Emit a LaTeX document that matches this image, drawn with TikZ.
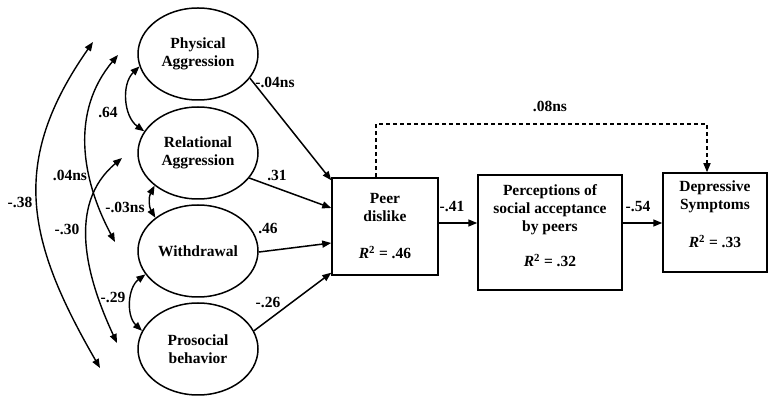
\documentclass[tikz,border=0pt]{standalone}
\usepackage{fontspec}
\setmainfont{Liberation Serif}
\usetikzlibrary{positioning, arrows.meta, shapes.geometric}

\begin{document}
\begin{tikzpicture}[
    x=1pt, y=1pt,
    every node/.style={font=\bfseries\fontsize{15.5}{18}\selectfont},
    latent/.style={ellipse, draw, line width=1.5pt, minimum width=120pt, minimum height=92pt, inner sep=0pt, align=center},
    obsbox/.style={rectangle, draw, line width=1.5pt, align=center, inner sep=0pt},
    arr/.style={-{Triangle[length=9pt,width=7pt]}, line width=1.5pt},
    corr/.style={{Triangle[length=9pt,width=7pt]}-{Triangle[length=9pt,width=7pt]}, line width=1.4pt},
    coef/.style={inner sep=1pt}
]
\useasboundingbox (0,0) rectangle (768,396);

% === Predictors ===
\node[latent] (pa) at (198,342) {Physical\\Aggression};
\node[latent] (ra) at (198,243) {Relational\\Aggression};
\node[latent] (wd) at (198,145) {Withdrawal};
\node[latent] (pb) at (198,47) {Prosocial\\behavior};

% === Mediators and outcome ===
\node[obsbox, minimum width=106pt, minimum height=97pt] (pd) at (385,169.5)
    {Peer\\dislike\\[19pt]\textit{R}\textsuperscript{2} = .46};
\node[obsbox, minimum width=144pt, minimum height=115pt, text depth=14pt] (sa) at (550,163.5)
    {Perceptions of\\social acceptance\\by peers\\[17pt]\textit{R}\textsuperscript{2} = .32};
\node[obsbox, minimum width=104pt, minimum height=99pt, text depth=16pt] (ds) at (715,173.5)
    {Depressive\\Symptoms\\[20pt]\textit{R}\textsuperscript{2} = .33};

% Paths into peer dislike
\draw[arr] (pa.-25) -- ([yshift=-3pt]pd.north west);
\draw[arr] (ra.-26) -- ([yshift=18.5pt]pd.west);
\draw[arr] (wd.-1) -- ([yshift=-16.5pt]pd.west);
\draw[arr] (pb.18) -- ([yshift=3pt]pd.south west);
\node[coef] (lpa) at (275,314) {-.04ns};
\node[coef] (lra) at (277,221) {.31};
\node[coef] (lwd) at (268,168) {.46};
\node[coef] (lpb) at (268,94) {-.26};

% Chain
\draw[arr] ([yshift=3.5pt]pd.east) -- ([yshift=3.5pt]pd.east -| sa.west);
\draw[arr] ([yshift=9.5pt]sa.east) -- ([yshift=9.5pt]sa.east -| ds.west);
\node[coef] (lpdsa) at (452,190) {-.41};
\node[coef] (lsads) at (638,189) {-.54};

% Direct path (not significant)
\draw[arr, dash pattern=on 4pt off 3pt] ([xshift=-9pt]pd.north) -- ++(0,53) -| ([xshift=-8pt]ds.north);
\node[coef] (lpdds) at (550,290) {.08ns};

% === Correlations among predictors ===
\draw[corr] (pa.192) to[bend right=50] (ra.158);
\draw[corr] (ra.217) to[bend right=30] (wd.142);
\draw[corr] (wd.204) to[bend right=50] (pb.162);
\node[coef] (lc1) at (108,284) {.64};
\node[coef] (lc2) at (125,189) {-.03ns};
\node[coef] (lc3) at (113,99) {-.29};

% long ones, free ends
\coordinate (t38) at (93,354);
\coordinate (b38) at (100,28);
\coordinate (t04) at (118,341);
\coordinate (b04) at (115,154);
\coordinate (t30) at (122,238);
\coordinate (b30) at (117,53);
\draw[corr] (t38) to[out=235, in=120, looseness=1.15] (b38);
\draw[corr] (t04) to[out=230, in=118] (b04);
\draw[corr] (t30) to[out=220, in=115] (b30);
\node[coef] (lc4) at (20,194) {-.38};
\node[coef] (lc5) at (70,221) {.04ns};
\node[coef] (lc6) at (67,167) {-.30};

\end{tikzpicture}
\end{document}
